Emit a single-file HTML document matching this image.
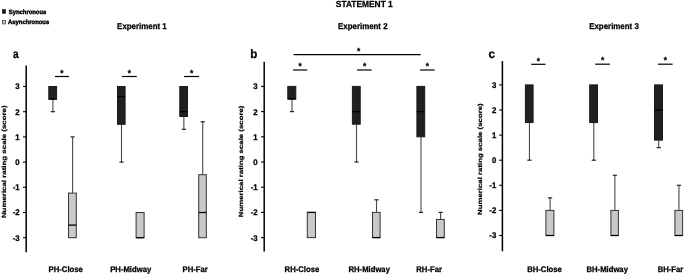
<!DOCTYPE html>
<html><head><meta charset="utf-8"><title>Statement 1</title>
<style>
html,body{margin:0;padding:0;background:#fff;}
body{width:684px;height:274px;overflow:hidden;}
svg{display:block;}
</style></head><body>
<svg width="684" height="274" viewBox="0 0 684 274" font-family='"Liberation Sans", Arial, sans-serif' font-weight="bold" fill="#000" text-rendering="geometricPrecision">
<style>text{stroke:#000;stroke-width:0.25px;}</style>
<rect width="684" height="274" fill="#fff"/>
<text x="0" y="0" font-size="8.4" text-anchor="middle" transform="translate(364.3,6.8) scale(1,1.06)" >STATEMENT 1</text>
<rect x="2.4" y="9.6" width="3.2" height="3.8" fill="#1a1a1a" stroke="#111" stroke-width="0.6"/>
<text x="0" y="0" font-size="5.9" text-anchor="start" transform="translate(8.7,13.6) scale(1,1.06)" style="stroke-width:0.4px">Synchronous</text>
<rect x="2.5" y="20.4" width="3.0" height="3.5" fill="#d0d0d0" stroke="#333" stroke-width="0.7"/>
<text x="0" y="0" font-size="5.9" text-anchor="start" transform="translate(8,23.6) scale(1,1.06)" style="stroke-width:0.4px">Asynchronous</text>
<text x="0" y="0" font-size="7.9" text-anchor="middle" transform="translate(141.9,29.1) scale(1,1.06)" >Experiment 1</text>
<text x="0" y="0" font-size="7.9" text-anchor="middle" transform="translate(362.8,29.1) scale(1,1.06)" >Experiment 2</text>
<text x="0" y="0" font-size="7.9" text-anchor="middle" transform="translate(614,29.1) scale(1,1.06)" >Experiment 3</text>
<line x1="26.2" y1="65.6" x2="26.2" y2="252.2" stroke="#000" stroke-width="1.5"/>
<line x1="23" y1="86.5" x2="26.2" y2="86.5" stroke="#000" stroke-width="1.1"/>
<text x="0" y="0" font-size="7.8" text-anchor="end" transform="translate(19.7,89.4) scale(1,1.06)" >3</text>
<line x1="23" y1="111.7" x2="26.2" y2="111.7" stroke="#000" stroke-width="1.1"/>
<text x="0" y="0" font-size="7.8" text-anchor="end" transform="translate(19.7,114.6) scale(1,1.06)" >2</text>
<line x1="23" y1="136.9" x2="26.2" y2="136.9" stroke="#000" stroke-width="1.1"/>
<text x="0" y="0" font-size="7.8" text-anchor="end" transform="translate(19.7,139.8) scale(1,1.06)" >1</text>
<line x1="23" y1="162.1" x2="26.2" y2="162.1" stroke="#000" stroke-width="1.1"/>
<text x="0" y="0" font-size="7.8" text-anchor="end" transform="translate(19.7,165) scale(1,1.06)" >0</text>
<line x1="23" y1="187.3" x2="26.2" y2="187.3" stroke="#000" stroke-width="1.1"/>
<text x="0" y="0" font-size="7.8" text-anchor="end" transform="translate(19.7,190.2) scale(1,1.06)" >-1</text>
<line x1="23" y1="212.5" x2="26.2" y2="212.5" stroke="#000" stroke-width="1.1"/>
<text x="0" y="0" font-size="7.8" text-anchor="end" transform="translate(19.7,215.4) scale(1,1.06)" >-2</text>
<line x1="23" y1="237.7" x2="26.2" y2="237.7" stroke="#000" stroke-width="1.1"/>
<text x="0" y="0" font-size="7.8" text-anchor="end" transform="translate(19.7,240.6) scale(1,1.06)" >-3</text>
<text x="0" y="0" font-size="7.9" text-anchor="middle" transform="translate(5.7,161.75) rotate(-90) scale(1,0.76)">Numerical rating scale (score)</text>
<text x="0" y="0" font-size="11.6" transform="translate(12.9,57.6) scale(0.88,1.06)">a</text>
<line x1="52.9" y1="99.1" x2="52.9" y2="111.7" stroke="#4a4a4a" stroke-width="1.1"/>
<line x1="50.8" y1="111.7" x2="55" y2="111.7" stroke="#222" stroke-width="1.2"/>
<rect x="48.8" y="86.5" width="7.8" height="12.6" fill="#202020" stroke="#1a1a1a" stroke-width="1"/>
<line x1="48.8" y1="99.1" x2="56.6" y2="99.1" stroke="#000" stroke-width="1.3"/>
<line x1="72.6" y1="193.1" x2="72.6" y2="136.9" stroke="#4a4a4a" stroke-width="1.1"/>
<line x1="70.5" y1="136.9" x2="74.7" y2="136.9" stroke="#222" stroke-width="1.2"/>
<rect x="68.5" y="193.1" width="7.8" height="44.6" fill="#c9c9c9" stroke="#333333" stroke-width="1"/>
<line x1="68.5" y1="225.1" x2="76.3" y2="225.1" stroke="#000" stroke-width="1.3"/>
<line x1="121.5" y1="124.3" x2="121.5" y2="162.1" stroke="#4a4a4a" stroke-width="1.1"/>
<line x1="119.4" y1="162.1" x2="123.6" y2="162.1" stroke="#222" stroke-width="1.2"/>
<rect x="117.5" y="86.5" width="7.6" height="37.8" fill="#202020" stroke="#1a1a1a" stroke-width="1"/>
<line x1="117.5" y1="96.58" x2="125.1" y2="96.58" stroke="#000" stroke-width="1.3"/>
<rect x="136.1" y="212.5" width="8" height="25.2" fill="#c9c9c9" stroke="#333333" stroke-width="1"/>
<line x1="136.1" y1="237.7" x2="144.1" y2="237.7" stroke="#000" stroke-width="1.3"/>
<line x1="183.85" y1="116.49" x2="183.85" y2="129.34" stroke="#4a4a4a" stroke-width="1.1"/>
<line x1="181.75" y1="129.34" x2="185.95" y2="129.34" stroke="#222" stroke-width="1.2"/>
<rect x="179.8" y="86.5" width="7.7" height="29.99" fill="#202020" stroke="#1a1a1a" stroke-width="1"/>
<line x1="179.8" y1="111.7" x2="187.5" y2="111.7" stroke="#000" stroke-width="1.3"/>
<line x1="202.7" y1="174.7" x2="202.7" y2="121.78" stroke="#4a4a4a" stroke-width="1.1"/>
<line x1="200.6" y1="121.78" x2="204.8" y2="121.78" stroke="#222" stroke-width="1.2"/>
<rect x="198.7" y="174.7" width="7.6" height="63" fill="#c9c9c9" stroke="#333333" stroke-width="1"/>
<line x1="198.7" y1="212.5" x2="206.3" y2="212.5" stroke="#000" stroke-width="1.3"/>
<line x1="54.9" y1="76.5" x2="69.1" y2="76.5" stroke="#000" stroke-width="1.2"/>
<text x="0" y="0" font-size="8.3" text-anchor="middle" transform="translate(61.8,75.7) scale(1,1.06)" >*</text>
<line x1="121.9" y1="76.5" x2="136.8" y2="76.5" stroke="#000" stroke-width="1.2"/>
<text x="0" y="0" font-size="8.3" text-anchor="middle" transform="translate(129.4,75.7) scale(1,1.06)" >*</text>
<line x1="184.1" y1="76.5" x2="199" y2="76.5" stroke="#000" stroke-width="1.2"/>
<text x="0" y="0" font-size="8.3" text-anchor="middle" transform="translate(191.6,75.7) scale(1,1.06)" >*</text>
<text x="0" y="0" font-size="7.7" text-anchor="middle" transform="translate(65.7,271.9) scale(1,1.06)" >PH-Close</text>
<text x="0" y="0" font-size="7.7" text-anchor="middle" transform="translate(130.7,271.9) scale(1,1.06)" >PH-Midway</text>
<text x="0" y="0" font-size="7.7" text-anchor="middle" transform="translate(195.2,271.9) scale(1,1.06)" >PH-Far</text>
<line x1="264.2" y1="61.7" x2="264.2" y2="251.5" stroke="#000" stroke-width="1.5"/>
<line x1="261" y1="86.4" x2="264.2" y2="86.4" stroke="#000" stroke-width="1.1"/>
<text x="0" y="0" font-size="7.8" text-anchor="end" transform="translate(257.6,89.3) scale(1,1.06)" >3</text>
<line x1="261" y1="111.6" x2="264.2" y2="111.6" stroke="#000" stroke-width="1.1"/>
<text x="0" y="0" font-size="7.8" text-anchor="end" transform="translate(257.6,114.5) scale(1,1.06)" >2</text>
<line x1="261" y1="136.8" x2="264.2" y2="136.8" stroke="#000" stroke-width="1.1"/>
<text x="0" y="0" font-size="7.8" text-anchor="end" transform="translate(257.6,139.7) scale(1,1.06)" >1</text>
<line x1="261" y1="162" x2="264.2" y2="162" stroke="#000" stroke-width="1.1"/>
<text x="0" y="0" font-size="7.8" text-anchor="end" transform="translate(257.6,164.9) scale(1,1.06)" >0</text>
<line x1="261" y1="187.2" x2="264.2" y2="187.2" stroke="#000" stroke-width="1.1"/>
<text x="0" y="0" font-size="7.8" text-anchor="end" transform="translate(257.6,190.1) scale(1,1.06)" >-1</text>
<line x1="261" y1="212.4" x2="264.2" y2="212.4" stroke="#000" stroke-width="1.1"/>
<text x="0" y="0" font-size="7.8" text-anchor="end" transform="translate(257.6,215.3) scale(1,1.06)" >-2</text>
<line x1="261" y1="237.6" x2="264.2" y2="237.6" stroke="#000" stroke-width="1.1"/>
<text x="0" y="0" font-size="7.8" text-anchor="end" transform="translate(257.6,240.5) scale(1,1.06)" >-3</text>
<text x="0" y="0" font-size="7.82" text-anchor="middle" transform="translate(243.2,161.4) rotate(-90) scale(1,0.77)">Numerical rating scale (score)</text>
<text x="0" y="0" font-size="11.6" transform="translate(250.2,57.6) scale(1,1.06)">b</text>
<line x1="292" y1="99" x2="292" y2="111.6" stroke="#4a4a4a" stroke-width="1.1"/>
<line x1="289.9" y1="111.6" x2="294.1" y2="111.6" stroke="#222" stroke-width="1.2"/>
<rect x="287.8" y="86.4" width="8" height="12.6" fill="#202020" stroke="#1a1a1a" stroke-width="1"/>
<line x1="287.8" y1="99" x2="295.8" y2="99" stroke="#000" stroke-width="1.3"/>
<rect x="307.3" y="212.4" width="8.2" height="25.2" fill="#c9c9c9" stroke="#333333" stroke-width="1"/>
<line x1="307.3" y1="212.4" x2="315.5" y2="212.4" stroke="#000" stroke-width="1.3"/>
<line x1="356.5" y1="124.2" x2="356.5" y2="162" stroke="#4a4a4a" stroke-width="1.1"/>
<line x1="354.4" y1="162" x2="358.6" y2="162" stroke="#222" stroke-width="1.2"/>
<rect x="352.4" y="86.4" width="7.8" height="37.8" fill="#202020" stroke="#1a1a1a" stroke-width="1"/>
<line x1="352.4" y1="111.6" x2="360.2" y2="111.6" stroke="#000" stroke-width="1.3"/>
<line x1="376.5" y1="212.4" x2="376.5" y2="199.8" stroke="#4a4a4a" stroke-width="1.1"/>
<line x1="374.4" y1="199.8" x2="378.6" y2="199.8" stroke="#222" stroke-width="1.2"/>
<rect x="372.5" y="212.4" width="7.6" height="25.2" fill="#c9c9c9" stroke="#333333" stroke-width="1"/>
<line x1="372.5" y1="237.6" x2="380.1" y2="237.6" stroke="#000" stroke-width="1.3"/>
<line x1="421" y1="136.8" x2="421" y2="212.4" stroke="#4a4a4a" stroke-width="1.1"/>
<line x1="418.9" y1="212.4" x2="423.1" y2="212.4" stroke="#222" stroke-width="1.2"/>
<rect x="416.9" y="86.4" width="7.8" height="50.4" fill="#202020" stroke="#1a1a1a" stroke-width="1"/>
<line x1="416.9" y1="111.6" x2="424.7" y2="111.6" stroke="#000" stroke-width="1.3"/>
<line x1="440.6" y1="219.46" x2="440.6" y2="212.4" stroke="#4a4a4a" stroke-width="1.1"/>
<line x1="438.5" y1="212.4" x2="442.7" y2="212.4" stroke="#222" stroke-width="1.2"/>
<rect x="436.5" y="219.46" width="7.8" height="18.14" fill="#c9c9c9" stroke="#333333" stroke-width="1"/>
<line x1="436.5" y1="237.6" x2="444.3" y2="237.6" stroke="#000" stroke-width="1.3"/>
<line x1="293.6" y1="54.6" x2="420.7" y2="54.6" stroke="#000" stroke-width="1.2"/>
<text x="0" y="0" font-size="8.3" text-anchor="middle" transform="translate(358.5,53.8) scale(1,1.06)" >*</text>
<line x1="293" y1="70" x2="307.2" y2="70" stroke="#000" stroke-width="1.2"/>
<text x="0" y="0" font-size="8.3" text-anchor="middle" transform="translate(300.1,69.2) scale(1,1.06)" >*</text>
<line x1="357" y1="70" x2="371.6" y2="70" stroke="#000" stroke-width="1.2"/>
<text x="0" y="0" font-size="8.3" text-anchor="middle" transform="translate(364.5,69.2) scale(1,1.06)" >*</text>
<line x1="420.1" y1="70" x2="434.6" y2="70" stroke="#000" stroke-width="1.2"/>
<text x="0" y="0" font-size="8.3" text-anchor="middle" transform="translate(427.4,69.2) scale(1,1.06)" >*</text>
<text x="0" y="0" font-size="7.7" text-anchor="middle" transform="translate(301.9,271.9) scale(1,1.06)" >RH-Close</text>
<text x="0" y="0" font-size="7.7" text-anchor="middle" transform="translate(369.2,271.9) scale(1,1.06)" >RH-Midway</text>
<text x="0" y="0" font-size="7.7" text-anchor="middle" transform="translate(429.1,271.9) scale(1,1.06)" >RH-Far</text>
<line x1="502.4" y1="61" x2="502.4" y2="251.3" stroke="#000" stroke-width="1.5"/>
<line x1="499.2" y1="84.9" x2="502.4" y2="84.9" stroke="#000" stroke-width="1.1"/>
<text x="0" y="0" font-size="7.8" text-anchor="end" transform="translate(496.3,87.8) scale(1,1.06)" >3</text>
<line x1="499.2" y1="110" x2="502.4" y2="110" stroke="#000" stroke-width="1.1"/>
<text x="0" y="0" font-size="7.8" text-anchor="end" transform="translate(496.3,112.9) scale(1,1.06)" >2</text>
<line x1="499.2" y1="135.1" x2="502.4" y2="135.1" stroke="#000" stroke-width="1.1"/>
<text x="0" y="0" font-size="7.8" text-anchor="end" transform="translate(496.3,138) scale(1,1.06)" >1</text>
<line x1="499.2" y1="160.2" x2="502.4" y2="160.2" stroke="#000" stroke-width="1.1"/>
<text x="0" y="0" font-size="7.8" text-anchor="end" transform="translate(496.3,163.1) scale(1,1.06)" >0</text>
<line x1="499.2" y1="185.3" x2="502.4" y2="185.3" stroke="#000" stroke-width="1.1"/>
<text x="0" y="0" font-size="7.8" text-anchor="end" transform="translate(496.3,188.2) scale(1,1.06)" >-1</text>
<line x1="499.2" y1="210.4" x2="502.4" y2="210.4" stroke="#000" stroke-width="1.1"/>
<text x="0" y="0" font-size="7.8" text-anchor="end" transform="translate(496.3,213.3) scale(1,1.06)" >-2</text>
<line x1="499.2" y1="235.5" x2="502.4" y2="235.5" stroke="#000" stroke-width="1.1"/>
<text x="0" y="0" font-size="7.8" text-anchor="end" transform="translate(496.3,238.4) scale(1,1.06)" >-3</text>
<text x="0" y="0" font-size="7.82" text-anchor="middle" transform="translate(482.4,159.15) rotate(-90) scale(1,0.77)">Numerical rating scale (score)</text>
<text x="0" y="0" font-size="11.6" transform="translate(488.5,57.5) scale(1,1.06)">c</text>
<line x1="529.45" y1="122.55" x2="529.45" y2="160.2" stroke="#4a4a4a" stroke-width="1.1"/>
<line x1="527.35" y1="160.2" x2="531.55" y2="160.2" stroke="#222" stroke-width="1.2"/>
<rect x="525.4" y="84.9" width="7.7" height="37.65" fill="#202020" stroke="#1a1a1a" stroke-width="1"/>
<line x1="550.1" y1="210.4" x2="550.1" y2="197.85" stroke="#4a4a4a" stroke-width="1.1"/>
<line x1="548" y1="197.85" x2="552.2" y2="197.85" stroke="#222" stroke-width="1.2"/>
<rect x="545.9" y="210.4" width="8" height="25.1" fill="#c9c9c9" stroke="#333333" stroke-width="1"/>
<line x1="545.9" y1="235.5" x2="553.9" y2="235.5" stroke="#000" stroke-width="1.3"/>
<line x1="593.8" y1="122.55" x2="593.8" y2="160.2" stroke="#4a4a4a" stroke-width="1.1"/>
<line x1="591.7" y1="160.2" x2="595.9" y2="160.2" stroke="#222" stroke-width="1.2"/>
<rect x="589.7" y="84.9" width="7.8" height="37.65" fill="#202020" stroke="#1a1a1a" stroke-width="1"/>
<line x1="614.85" y1="210.4" x2="614.85" y2="175.26" stroke="#4a4a4a" stroke-width="1.1"/>
<line x1="612.75" y1="175.26" x2="616.95" y2="175.26" stroke="#222" stroke-width="1.2"/>
<rect x="610.9" y="210.4" width="7.5" height="25.1" fill="#c9c9c9" stroke="#333333" stroke-width="1"/>
<line x1="610.9" y1="235.5" x2="618.4" y2="235.5" stroke="#000" stroke-width="1.3"/>
<line x1="658.7" y1="140.12" x2="658.7" y2="147.65" stroke="#4a4a4a" stroke-width="1.1"/>
<line x1="656.6" y1="147.65" x2="660.8" y2="147.65" stroke="#222" stroke-width="1.2"/>
<rect x="654.5" y="84.9" width="8" height="55.22" fill="#202020" stroke="#1a1a1a" stroke-width="1"/>
<line x1="654.5" y1="110" x2="662.5" y2="110" stroke="#000" stroke-width="1.3"/>
<line x1="678.95" y1="210.4" x2="678.95" y2="185.3" stroke="#4a4a4a" stroke-width="1.1"/>
<line x1="676.85" y1="185.3" x2="681.05" y2="185.3" stroke="#222" stroke-width="1.2"/>
<rect x="674.9" y="210.4" width="7.7" height="25.1" fill="#c9c9c9" stroke="#333333" stroke-width="1"/>
<line x1="674.9" y1="235.5" x2="682.6" y2="235.5" stroke="#000" stroke-width="1.3"/>
<line x1="531.2" y1="64.3" x2="545.5" y2="64.3" stroke="#000" stroke-width="1.2"/>
<text x="0" y="0" font-size="8.3" text-anchor="middle" transform="translate(538.4,63.5) scale(1,1.06)" >*</text>
<line x1="595.2" y1="64.2" x2="609.9" y2="64.2" stroke="#000" stroke-width="1.2"/>
<text x="0" y="0" font-size="8.3" text-anchor="middle" transform="translate(602.6,63.4) scale(1,1.06)" >*</text>
<line x1="657.9" y1="64.2" x2="672.6" y2="64.2" stroke="#000" stroke-width="1.2"/>
<text x="0" y="0" font-size="8.3" text-anchor="middle" transform="translate(665.3,63.4) scale(1,1.06)" >*</text>
<text x="0" y="0" font-size="7.7" text-anchor="middle" transform="translate(544.5,271.9) scale(1,1.06)" >BH-Close</text>
<text x="0" y="0" font-size="7.7" text-anchor="middle" transform="translate(607.2,271.9) scale(1,1.06)" >BH-Midway</text>
<text x="0" y="0" font-size="7.7" text-anchor="middle" transform="translate(670.5,271.9) scale(1,1.06)" >BH-Far</text>
</svg>
</body></html>
